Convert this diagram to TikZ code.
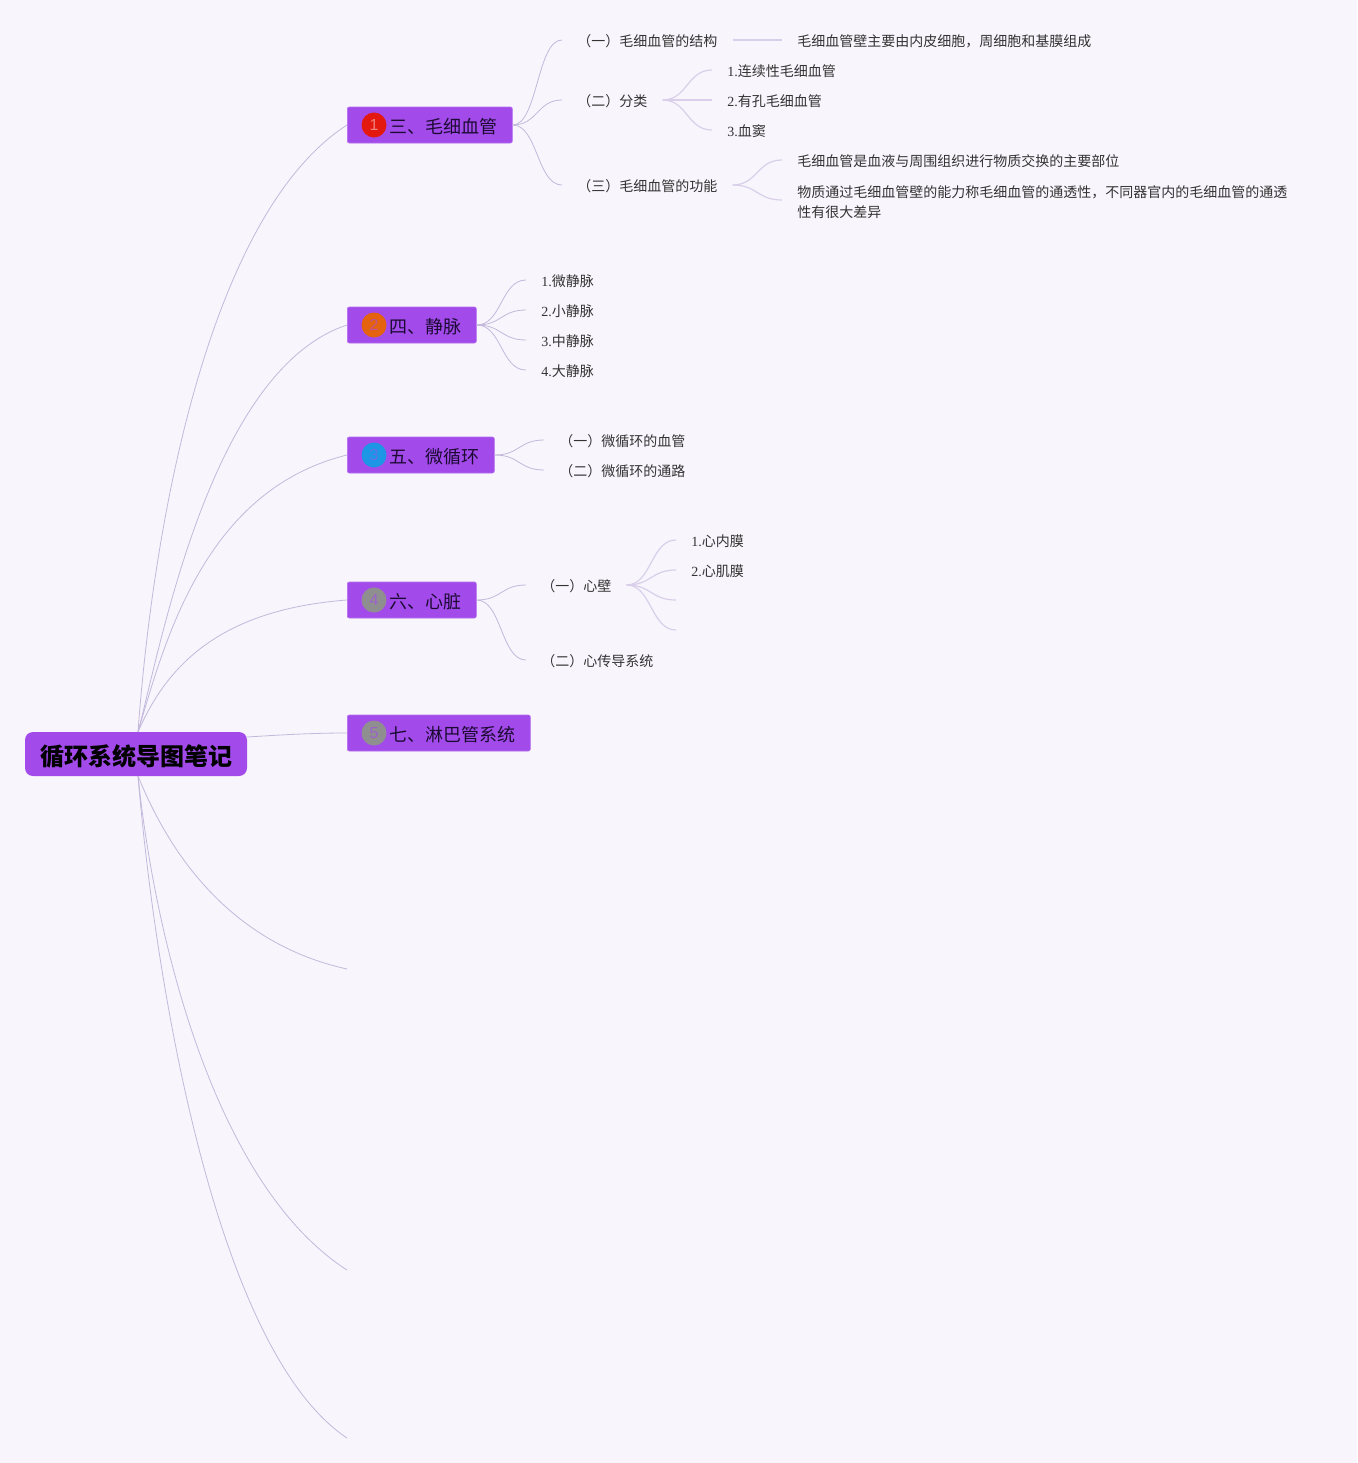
\documentclass[tikz,border=0pt]{standalone}
\usepackage{fontspec}
\usepackage{xcolor}
\setmainfont{Liberation Serif}
\newfontfamily\cjk{Noto Sans CJK SC}
\newfontfamily\badgefont{Liberation Sans}
\definecolor{pagebg}{HTML}{F8F5FC}
\definecolor{boxfill}{HTML}{A24BEA}
\definecolor{boxedge}{HTML}{B46DF0}
\definecolor{linkmain}{HTML}{C4B8DC}
\definecolor{linkleaf}{HTML}{D9CFEA}
\definecolor{inkdark}{HTML}{1C0A33}
\definecolor{inkleaf}{HTML}{333333}
\definecolor{badgered}{HTML}{E3190F}
\definecolor{badgeorange}{HTML}{E5620F}
\definecolor{badgeblue}{HTML}{1E96E6}
\definecolor{badgegrey}{HTML}{8F8F8F}
\newcommand{\badgegap}{\hspace*{20.25pt}}
\tikzset{
  rootbox/.style={fill=boxfill, rounded corners=6pt, minimum height=33pt, inner xsep=11.25pt, inner ysep=0pt,
    text height=20pt, text depth=3.4pt, text=black, font=\cjk\bfseries\fontsize{18}{22}\selectfont},
  topicbox/.style={anchor=west, fill=boxfill, draw=boxedge, line width=0.5pt, rounded corners=1.5pt, minimum height=27pt,
    inner xsep=11.25pt, inner ysep=0pt, text height=15pt, text depth=3pt, text=inkdark,
    font=\cjk\fontsize{13.5}{16}\selectfont},
  badge/.style={circle, minimum size=18.75pt, inner sep=0pt, font=\badgefont\fontsize{12}{14}\selectfont},
  leaftext/.style={anchor=west, inner xsep=11.25pt, inner ysep=0pt, text=inkleaf, align=left,
    font=\fontsize{10.5}{15}\selectfont},
  leaf/.style={leaftext, text height=11.5pt, text depth=2pt},
  mainlink/.style={draw=linkmain, line width=0.6pt},
  sublink/.style={draw=linkmain, line width=0.6pt,
    to path={.. controls ([xshift=18.75pt]\tikztostart) and ([xshift=-18.75pt]\tikztotarget) .. (\tikztotarget)}},
  leaflink/.style={draw=linkleaf, line width=0.9pt,
    to path={.. controls ([xshift=18.75pt]\tikztostart) and ([xshift=-18.75pt]\tikztotarget) .. (\tikztotarget)}}
}
\begin{document}
\begin{tikzpicture}[x=0.75pt,y=-0.75pt]
    \fill[pagebg] (0,0) rectangle (1357,1463);
    \useasboundingbox (0,0) rectangle (1357,1463);

    \node[rootbox] (root) at (136,754) {循环系统导图笔记};

    \node[topicbox] (san) at (347,125) {\badgegap 三、毛细血管};
    \node[topicbox] (si) at (347,325) {\badgegap 四、静脉};
    \node[topicbox] (wu) at (347,455) {\badgegap 五、微循环};
    \node[topicbox] (liu) at (347,600) {\badgegap 六、心脏};
    \node[topicbox] (qi) at (347,733) {\badgegap 七、淋巴管系统};

    \node[badge,fill=badgered,text=badgered!55!white] (sanb) at (374,125) {1};
    \node[badge,fill=badgeorange,text=boxfill!55!badgeorange] (sib) at (374,325) {2};
    \node[badge,fill=badgeblue,text=boxfill!45!badgeblue] (wub) at (374,455) {3};
    \node[badge,fill=badgegrey,text=boxfill!65!badgegrey] (liub) at (374,600) {4};
    \node[badge,fill=badgegrey,text=boxfill!65!badgegrey] (qib) at (374,733) {5};

    \coordinate (rootup) at (138,732);
    \coordinate (rootdown) at (138,776);
    \coordinate (rootright) at (247,737);
    \coordinate (freea) at (347,969);
    \coordinate (freeb) at (347,1270);
    \coordinate (freec) at (347,1438);

    \draw[mainlink] (rootup) .. controls (155,500) and (215,210) .. (san.west);
    \draw[mainlink] (rootup) .. controls (160,650) and (210,370) .. (si.west);
    \draw[mainlink] (rootup) .. controls (165,640) and (205,490) .. (wu.west);
    \draw[mainlink] (rootup) .. controls (165,670) and (215,610) .. (liu.west);
    \draw[mainlink] (rootright) .. controls (280,735) and (310,733) .. (qi.west);
    \draw[mainlink] (rootdown) .. controls (160,830) and (215,940) .. (freea);
    \draw[mainlink] (rootdown) .. controls (155,940) and (215,1185) .. (freeb);
    \draw[mainlink] (rootdown) .. controls (155,980) and (215,1350) .. (freec);

    \node[leaf] (sana) at (562,40) {\cjk （一）毛细血管的结构};
    \node[leaf] (sanb2) at (562,100) {\cjk （二）分类};
    \node[leaf] (sanc) at (562,185) {\cjk （三）毛细血管的功能};
    \node[leaf] (sanaa) at (782,40) {\cjk 毛细血管壁主要由内皮细胞，周细胞和基膜组成};
    \node[leaf] (sanba) at (712,70) {1.{\cjk 连续性毛细血管}};
    \node[leaf] (sanbb) at (712,100) {2.{\cjk 有孔毛细血管}};
    \node[leaf] (sanbc) at (712,130) {3.{\cjk 血窦}};
    \node[leaf] (sanca) at (782,160) {\cjk 毛细血管是血液与周围组织进行物质交换的主要部位};
    \node[leaftext] (sancb) at (782,200) {\rule{0pt}{12pt}\cjk 物质通过毛细血管壁的能力称毛细血管的通透性，不同器官内的毛细血管的通透\\\cjk 性有很大差异};

    \node[leaf] (sia) at (526,280) {1.{\cjk 微静脉}};
    \node[leaf] (sib2) at (526,310) {2.{\cjk 小静脉}};
    \node[leaf] (sic) at (526,340) {3.{\cjk 中静脉}};
    \node[leaf] (sid) at (526,370) {4.{\cjk 大静脉}};

    \node[leaf] (wua) at (544,440) {\cjk （一）微循环的血管};
    \node[leaf] (wub2) at (544,470) {\cjk （二）微循环的通路};

    \node[leaf] (liua) at (526,585) {\cjk （一）心壁};
    \node[leaf] (liuc) at (526,660) {\cjk （二）心传导系统};
    \node[leaf] (liuaa) at (676,540) {1.{\cjk 心内膜}};
    \node[leaf] (liuab) at (676,570) {2.{\cjk 心肌膜}};
    \coordinate (liuac) at (676,600);
    \coordinate (liuad) at (676,630);

    \draw[sublink] (san.east) to (sana.west);
    \draw[sublink] (san.east) to (sanb2.west);
    \draw[sublink] (san.east) to (sanc.west);
    \draw[leaflink] (sana.east) -- (sanaa.west);
    \draw[leaflink] (sanb2.east) to (sanba.west);
    \draw[leaflink] (sanb2.east) to (sanbb.west);
    \draw[leaflink] (sanb2.east) to (sanbc.west);
    \draw[leaflink] (sanc.east) to (sanca.west);
    \draw[leaflink] (sanc.east) to (sancb.west);

    \draw[sublink] (si.east) to (sia.west);
    \draw[sublink] (si.east) to (sib2.west);
    \draw[sublink] (si.east) to (sic.west);
    \draw[sublink] (si.east) to (sid.west);

    \draw[sublink] (wu.east) to (wua.west);
    \draw[sublink] (wu.east) to (wub2.west);

    \draw[sublink] (liu.east) to (liua.west);
    \draw[sublink] (liu.east) to (liuc.west);
    \draw[leaflink] (liua.east) to (liuaa.west);
    \draw[leaflink] (liua.east) to (liuab.west);
    \draw[leaflink] (liua.east) to (liuac);
    \draw[leaflink] (liua.east) to (liuad);
\end{tikzpicture}
\end{document}
